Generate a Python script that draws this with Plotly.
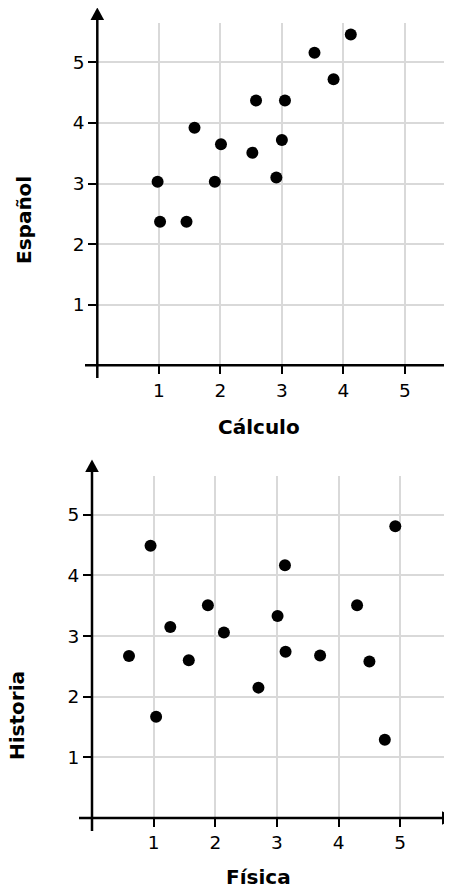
import plotly.graph_objects as go

# ---- data ----
calculo = [0.98, 1.02, 1.45, 1.58, 1.91, 2.01, 2.52, 2.58, 2.91, 3.00, 3.05, 3.53, 3.84, 4.12]
espanol = [3.03, 2.37, 2.37, 3.92, 3.03, 3.65, 3.51, 4.37, 3.10, 3.72, 4.37, 5.16, 4.72, 5.46]

fisica = [0.60, 0.95, 1.04, 1.27, 1.57, 1.88, 2.14, 2.70, 3.01, 3.13, 3.14, 3.70, 4.30, 4.50, 4.75, 4.92]
historia = [2.67, 4.49, 1.67, 3.15, 2.60, 3.51, 3.06, 2.15, 3.33, 4.17, 2.74, 2.68, 3.51, 2.58, 1.29, 4.81]

tick_vals = [1, 2, 3, 4, 5]
tick_text = ["1", "2", "3", "4", "5"]

# ---- layout (pixels, in page coordinates) ----
W, H = 452, 890
OFF = 8  # default page body margin
FONT = "DejaVu Sans, Verdana, sans-serif"


def px(x):
    return (x - OFF) / W


def py(y):
    return 1 - (y - OFF) / H


panels = [
    dict(left=97.3, right=448, top=23, bottom=365.3, xmax=5.70, ymax=5.65,
         xleft=85, ybottom=378, ytip=7.5, xtip=458, xbase=446, ybase=19,
         xtitle="Cálculo", ytitle="Español", xt=(259, 427), yt=(24, 220)),
    dict(left=92, right=444, top=476, bottom=818, xmax=5.71, ymax=5.64,
         xleft=79, ybottom=831, ytip=459.5, xtip=455, xbase=443, ybase=471,
         xtitle="Física", ytitle="Historia", xt=(258, 877), yt=(17, 716)),
]

fig = go.Figure()
fig.add_trace(go.Scatter(x=calculo, y=espanol, mode="markers",
                         marker=dict(size=12, color="black"),
                         xaxis="x", yaxis="y", cliponaxis=False))
fig.add_trace(go.Scatter(x=fisica, y=historia, mode="markers",
                         marker=dict(size=12, color="black"),
                         xaxis="x2", yaxis="y2", cliponaxis=False))

axis_common = dict(
    tickvals=tick_vals, ticktext=tick_text,
    showgrid=True, gridcolor="#d9d9d9", gridwidth=2,
    zeroline=False, showline=False,
    ticks="outside", ticklen=8, tickwidth=2, tickcolor="black",
    tickfont=dict(family=FONT, size=18.5, color="black"),
    fixedrange=True,
)

shapes = []
annotations = []
for i, p in enumerate(panels):
    sfx = "" if i == 0 else str(i + 1)
    fig.layout["xaxis" + sfx] = dict(
        axis_common, domain=[px(p["left"]), px(p["right"])],
        range=[0, p["xmax"]], anchor="y" + sfx)
    fig.layout["yaxis" + sfx] = dict(
        axis_common, domain=[py(p["bottom"]), py(p["top"])],
        range=[0, p["ymax"]], anchor="x" + sfx)

    # axis lines
    shapes.append(dict(type="line", xref="paper", yref="paper",
                       x0=px(p["left"]), x1=px(p["left"]),
                       y0=py(p["ybottom"]), y1=py(p["ybase"]),
                       line=dict(color="black", width=2.5), layer="above"))
    shapes.append(dict(type="line", xref="paper", yref="paper",
                       x0=px(p["xleft"]), x1=px(p["xbase"]),
                       y0=py(p["bottom"]), y1=py(p["bottom"]),
                       line=dict(color="black", width=2.5), layer="above"))
    # arrowheads
    L, B = p["left"], p["bottom"]
    shapes.append(dict(type="path", xref="paper", yref="paper",
                       path=f"M {px(L)} {py(p['ytip'])} L {px(L - 6.8)} {py(p['ybase'] + 1)} "
                            f"L {px(L + 6.8)} {py(p['ybase'] + 1)} Z",
                       fillcolor="black", line=dict(color="black", width=0), layer="above"))
    shapes.append(dict(type="path", xref="paper", yref="paper",
                       path=f"M {px(p['xtip'])} {py(B)} L {px(p['xbase'] - 1)} {py(B - 6.8)} "
                            f"L {px(p['xbase'] - 1)} {py(B + 6.8)} Z",
                       fillcolor="black", line=dict(color="black", width=0), layer="above"))

    annotations.append(dict(text=f"<b>{p['xtitle']}</b>", xref="paper", yref="paper",
                            x=px(p["xt"][0]), y=py(p["xt"][1]),
                            xanchor="center", yanchor="middle", showarrow=False,
                            borderpad=0,
                            font=dict(family=FONT, size=20, color="black")))
    annotations.append(dict(text=f"<b>{p['ytitle']}</b>", xref="paper", yref="paper",
                            x=px(p["yt"][0]), y=py(p["yt"][1]), textangle=-90,
                            xanchor="center", yanchor="middle", showarrow=False,
                            borderpad=0,
                            font=dict(family=FONT, size=20, color="black")))

fig.update_layout(
    width=W, height=H,
    margin=dict(l=0, r=0, t=0, b=0),
    paper_bgcolor="white", plot_bgcolor="white",
    showlegend=False,
    shapes=shapes, annotations=annotations,
)

fig.write_html("out.html")
